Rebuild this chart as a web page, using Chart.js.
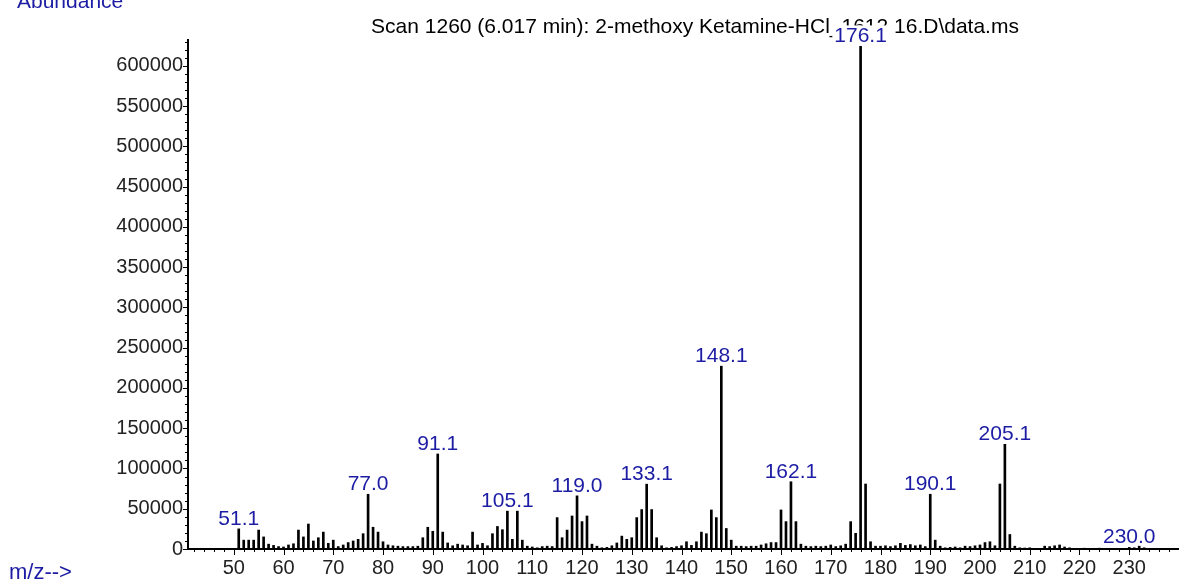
<!DOCTYPE html>
<html>
<head>
<meta charset="utf-8">
<script src="https://cdn.jsdelivr.net/npm/chart.js@4.4.1/dist/chart.umd.min.js"></script>
<style>
  html, body { margin:0; padding:0; background:#fff; }
  #wrap { width:1179px; height:584px; }
</style>
</head>
<body>
<div id="wrap"><canvas id="ms" width="1179" height="584"></canvas></div>
<script>
/* ── spectrum data (m/z, abundance) ── */
var mz = [
  51,52,53,54,55,56,57,58,59,60,61,62,63,64,65,66,67,68,69,70,
  71,72,73,74,75,76,77,78,79,80,81,82,83,84,85,86,87,88,89,90,
  91,92,93,94,95,96,97,98,99,100,101,102,103,104,105,106,107,108,109,110,
  111,112,113,114,115,116,117,118,119,120,121,122,123,124,125,126,127,128,129,130,
  131,132,133,134,135,136,137,138,139,140,141,142,143,144,145,146,147,148,149,150,
  151,152,153,154,155,156,157,158,159,160,161,162,163,164,165,166,167,168,169,170,
  171,172,173,174,175,176,177,178,179,180,181,182,183,184,185,186,187,188,189,190,
  191,192,193,194,195,196,197,198,199,200,201,202,203,204,205,206,207,208,209,210,
  213,214,215,216,217,218,221,224,230,231,232,233
];
var abundance = [
  25000,11000,11000,11000,23500,15000,6000,4500,3000,2500,5000,6500,23500,15000,31000,10000,14000,21000,7000,11000,
  3000,5000,8000,10000,12000,19000,68000,27000,21000,9000,5000,4000,3500,3000,3000,3000,3500,14000,27000,22000,
  118000,21000,7500,4000,6000,5000,4000,21000,5000,7000,4000,19000,28000,24000,47000,12000,47000,11000,3500,2500,
  1500,3000,3500,3000,39000,14000,23500,41000,66000,34000,41000,6000,3500,1500,2000,4000,7500,16000,12000,14000,
  39000,49000,80500,49000,14000,4000,1500,2000,3000,4000,9000,4500,9000,21000,19000,48500,39000,227000,25500,11000,
  3500,3500,3000,3500,3500,5000,6500,8000,8000,48500,34000,83500,34000,6000,3500,3000,3500,3000,3500,5000,
  3000,4000,6000,34000,19500,624000,80700,9000,3500,3500,4000,3000,4000,7000,4500,5500,4000,5000,3000,68000,
  11000,3500,1500,2000,2500,1500,3500,3000,4000,5000,8000,9000,4000,80700,130000,18000,3500,1500,1200,1500,
  3500,3000,4000,5000,2500,1500,1000,1000,2000,1500,3500,1500
];

// labelled peaks
var peakMz   = [51, 77, 91, 105, 119, 133, 148, 162, 176, 190, 205, 230];
var peakText = ['51.1','77.0','91.1','105.1','119.0','133.1','148.1','162.1','176.1','190.1','205.1','230.0'];

// axis ticks
var xTicks = [50,60,70,80,90,100,110,120,130,140,150,160,170,180,190,200,210,220,230];
var yTicks = [0,50000,100000,150000,200000,250000,300000,350000,400000,450000,500000,550000,600000];

var TITLE = 'Scan 1260 (6.017 min): 2-methoxy Ketamine-HCl_1612 16.D\\data.ms';
var BLUE  = '#1c1ca4';
var FONT  = '"Liberation Sans", Arial, sans-serif';

/* ── decorations: minor ticks, peak labels, title ── */
var msDecor = {
  id: 'msDecor',
  beforeDraw: function(chart){
    var c = chart.ctx;
    c.save();
    c.fillStyle = '#fff';
    c.fillRect(0, 0, chart.width, chart.height);
    c.restore();
  },
  afterDraw: function(chart){
    var c  = chart.ctx;
    var xs = chart.scales.x, ys = chart.scales.y;
    var a  = chart.chartArea;
    c.save();
    c.strokeStyle = '#000';
    c.lineWidth = 1;

    // x ticks (minor every 2, major every 10)
    c.beginPath();
    for (var m = 42; m <= 238; m += 2) {
      var px = Math.round(xs.getPixelForValue(m)) + 0.5;
      var len = (m % 10 === 0) ? 6 : 3;
      c.moveTo(px, a.bottom);
      c.lineTo(px, a.bottom + len);
    }
    // y ticks (minor every 10000, major every 50000)
    for (var v = 0; v <= 630000; v += 10000) {
      var py = Math.round(ys.getPixelForValue(v)) + 0.5;
      var ylen = (v % 50000 === 0) ? 5 : 3;
      c.moveTo(a.left, py);
      c.lineTo(a.left - ylen, py);
    }
    c.stroke();

    // title
    c.fillStyle = '#000';
    c.font = '21px ' + FONT;
    c.textAlign = 'center';
    c.textBaseline = 'alphabetic';
    c.fillText(TITLE, 695, 33);

    // axis captions
    c.fillStyle = BLUE;
    c.textAlign = 'left';
    c.font = '21px ' + FONT;
    c.fillText('Abundance', 17, 8);
    c.font = '22px ' + FONT;
    c.fillText('m/z-->', 9, 579);

    // peak labels
    c.font = '21px ' + FONT;
    c.textAlign = 'center';
    peakMz.forEach(function(p, i){
      var idx = mz.indexOf(p);
      var lx = xs.getPixelForValue(p);
      var ly = ys.getPixelForValue(abundance[idx]) - 4;
      var w  = c.measureText(peakText[i]).width;
      if (p === 176) {
        c.fillStyle = '#fff';
        c.fillRect(lx - w/2 - 2, ly - 17, w + 4, 18);
      }
      c.fillStyle = BLUE;
      c.fillText(peakText[i], lx, ly);
    });
    c.restore();
  }
};

new Chart(document.getElementById('ms'), {
  type: 'bar',
  data: {
    datasets: [{
      data: mz.map(function(m, i){ return { x: m, y: abundance[i] }; }),
      backgroundColor: '#000',
      borderWidth: 0,
      barThickness: 2
    }]
  },
  options: {
    responsive: false,
    animation: false,
    layout: { padding: { top: 40, right: 1, left: 0, bottom: 0 } },
    plugins: { legend: { display: false }, tooltip: { enabled: false } },
    scales: {
      x: {
        type: 'linear', min: 40.8, max: 239.8, offset: false,
        grid: { display: false, drawTicks: false, offset: false },
        border: { display: true, color: '#000', width: 2 },
        afterBuildTicks: function(s){ s.ticks = xTicks.map(function(v){ return { value: v }; }); },
        afterFit: function(s){ s.height = 35; },
        ticks: { color: '#222', padding: 7, maxRotation: 0, autoSkip: false, font: { family: FONT, size: 20 } }
      },
      y: {
        min: 0, max: 632000,
        grid: { display: false, drawTicks: false },
        border: { display: true, color: '#000', width: 2 },
        afterBuildTicks: function(s){ s.ticks = yTicks.map(function(v){ return { value: v }; }); },
        afterFit: function(s){ s.width = 188; },
        ticks: { color: '#222', padding: 5, autoSkip: false, font: { family: FONT, size: 20 },
                 callback: function(v){ return String(v); } }
      }
    }
  },
  plugins: [msDecor]
});
</script>
</body>
</html>
